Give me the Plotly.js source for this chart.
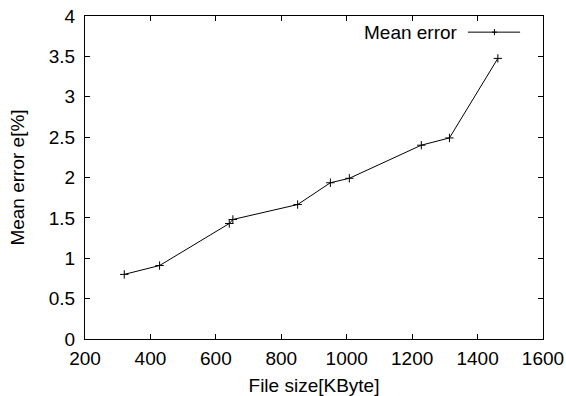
<!DOCTYPE html>
<html>
<head>
<meta charset="utf-8">
<script src="https://cdn.plot.ly/plotly-3.0.1.min.js"></script>
<style>html,body{margin:0;padding:0;background:#fff;}#chart{width:566px;height:396px;}</style>
</head>
<body>
<div id="chart"></div>
<script>
var fileSize = [320, 428, 641, 652, 850, 950, 1008, 1228, 1314, 1462];
var meanError = [0.80, 0.91, 1.43, 1.48, 1.665, 1.935, 1.99, 2.40, 2.49, 3.475];
var seriesName = 'Mean error';
var xTitle = 'File size[KByte]';
var yTitle = 'Mean error e[%]';

var font = 'Liberation Sans, Arial, sans-serif';
var fs = 19;
var trace = {
  x: fileSize, y: meanError, type: 'scatter', mode: 'lines+markers',
  name: seriesName, showlegend: false,
  line: {color: '#000', width: 1},
  marker: {symbol: 'cross-thin-open', size: 6, color: '#000', line: {color: '#000', width: 1}}
};
var axisCommon = {
  showgrid: false, zeroline: false, showline: true, linecolor: '#000', linewidth: 1,
  mirror: 'allticks', ticks: 'inside', ticklen: 5, tickcolor: '#000', tickwidth: 1,
  tickfont: {family: font, size: fs, color: '#000'}, automargin: false
};
var layout = {
  width: 566, height: 396,
  margin: {l: 85, r: 23, t: 16, b: 57},
  paper_bgcolor: '#fff', plot_bgcolor: '#fff',
  font: {family: font, size: fs, color: '#000'},
  xaxis: Object.assign({}, axisCommon, {
    range: [200, 1600], dtick: 200, tick0: 200, ticklabelstandoff: 2,
    title: {text: xTitle, font: {family: font, size: fs, color: '#000'}, standoff: 10}
  }),
  yaxis: Object.assign({}, axisCommon, {
    range: [0, 4], dtick: 0.5, tick0: 0, ticklabelstandoff: 5,
    title: {text: yTitle, font: {family: font, size: fs, color: '#000'}, standoff: 19}
  }),
  annotations: [{
    xref: 'paper', yref: 'paper', x: 0.818, y: 0.95, xanchor: 'right', yanchor: 'middle',
    text: seriesName, showarrow: false, font: {family: font, size: fs, color: '#000'}
  }],
  shapes: [
    {type: 'line', xref: 'paper', yref: 'paper', x0: 0.836, x1: 0.950, y0: 0.95, y1: 0.95, line: {color: '#000', width: 1}},
    {type: 'line', xref: 'paper', yref: 'paper', x0: 0.8885, x1: 0.8995, y0: 0.95, y1: 0.95, line: {color: '#000', width: 1}},
    {type: 'line', xref: 'paper', yref: 'paper', x0: 0.894, x1: 0.894, y0: 0.9405, y1: 0.9595, line: {color: '#000', width: 1}}
  ]
};
Plotly.newPlot('chart', [trace], layout, {staticPlot: true, displayModeBar: false});
</script>
</body>
</html>
